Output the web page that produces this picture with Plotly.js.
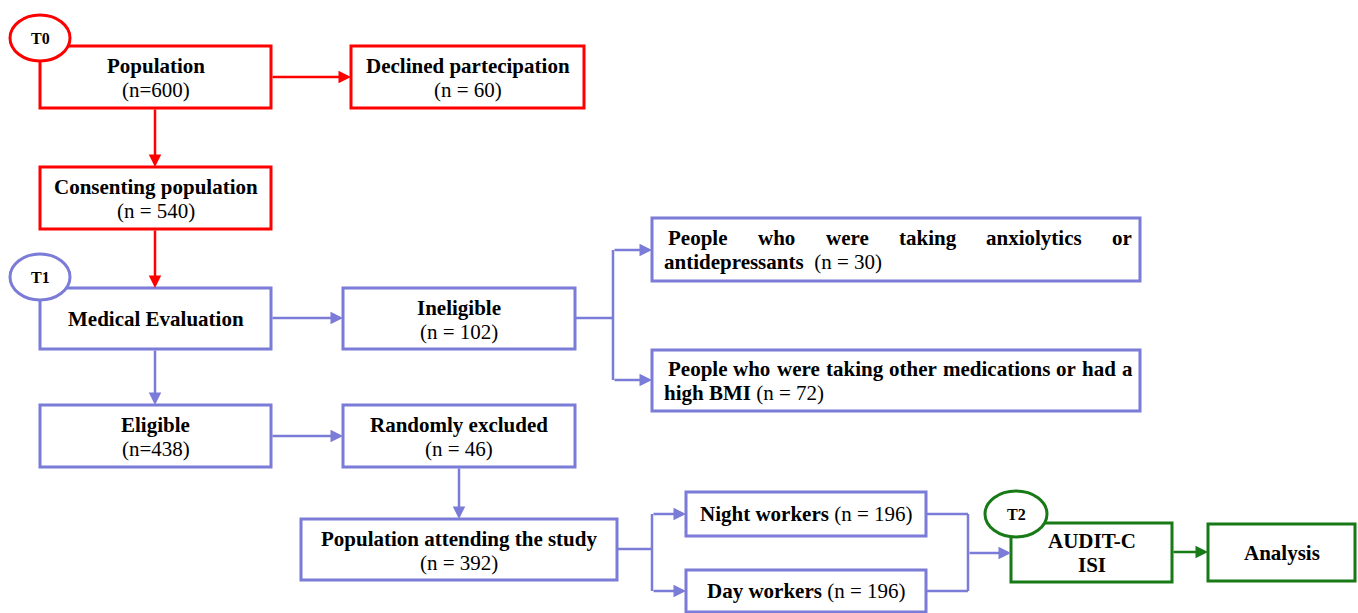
<!DOCTYPE html>
<html>
<head>
<meta charset="utf-8">
<script src="https://cdn.plot.ly/plotly-3.0.1.min.js"></script>
<style>html,body{margin:0;padding:0;background:#fff;}#chart{width:1358px;height:613px;}</style>
</head>
<body>
<div id="chart"></div>
<script>
// ---- data ----
const stageLabels = ["T0", "T1", "T2"];
const boxTitles = ["Population", "Declined partecipation", "Consenting population", "Medical Evaluation",
  "Ineligible", "Eligible", "Randomly excluded", "Population attending the study",
  "Night workers", "Day workers", "Analysis"];
const boxCounts = [600, 60, 540, null, 102, 438, 46, 392, 196, 196, null];
const compactCount = [true, false, false, false, false, true, false, false, false, false, false];
const exclusionTexts = ["People who were taking anxiolytics or", "antidepressants",
  "People who were taking other medications or had a", "high BMI"];
const exclusionCounts = [30, 72];
const measureLines = ["AUDIT-C", "ISI"];

// ---- styles / layout ----
const RED = '#ff0000', BLUE = '#7b7bd8', GREEN = '#177a17';
const FONT = 'Liberation Serif';
const FS = 21;

// box geometry (px) in same order as boxTitles
const boxGeom = [
  [40, 271, 46, 108, RED, 'two'],
  [351, 584, 46, 108, RED, 'two'],
  [40, 271, 167, 229, RED, 'two'],
  [40, 271, 288, 349, BLUE, 'one'],
  [343, 575, 288, 349, BLUE, 'two'],
  [40, 271, 405, 467, BLUE, 'two'],
  [343, 575, 405, 467, BLUE, 'two'],
  [301, 617, 519, 580, BLUE, 'two'],
  [686, 926, 492, 536, BLUE, 'inline'],
  [686, 926, 570, 612, BLUE, 'inline'],
  [1208, 1355, 524, 581, GREEN, 'one']
];
const exclGeom = [[652, 1140, 218, 281], [652, 1140, 350, 411]];
const measureGeom = [1011, 1172, 523, 582];
const stageGeom = [[40, 38, 30, 23, RED], [40, 277, 30, 23, BLUE], [1016, 514, 31, 23, GREEN]];

const shapes = [];
const annotations = [];

function rect(x0, x1, y0, y1, c) {
  shapes.push({type: 'rect', xref: 'x', yref: 'y', x0, x1, y0, y1,
    line: {color: c, width: 3}, fillcolor: 'white', layer: 'above'});
}
function seg(x0, y0, x1, y1, c) {
  shapes.push({type: 'line', xref: 'x', yref: 'y', x0, y0, x1, y1, line: {color: c, width: 2.5}, layer: 'above'});
}
function arrow(x0, y0, x1, y1, c) {
  annotations.push({x: x1, y: y1, ax: x0, ay: y0, xref: 'x', yref: 'y', axref: 'x', ayref: 'y',
    showarrow: true, arrowhead: 2, arrowsize: 1, arrowwidth: 2.5, arrowcolor: c, text: '', standoff: 0});
}
function txt(x, y, t, anchor, size) {
  annotations.push({x, y, xref: 'x', yref: 'y', text: t, showarrow: false,
    xanchor: anchor || 'center', yanchor: 'middle',
    font: {family: FONT, size: size || FS, color: '#000'}});
}
function countStr(n, compact) {
  return compact ? '(n=' + n + ')' : '(n = ' + n + ')';
}

// boxes
boxTitles.forEach((t, i) => {
  const [x0, x1, y0, y1, c, mode] = boxGeom[i];
  rect(x0, x1, y0, y1, c);
  const cx = (x0 + x1) / 2, cy = (y0 + y1) / 2;
  if (mode === 'two') {
    txt(cx, cy - 11, '<b>' + t + '</b>');
    txt(cx, cy + 13, countStr(boxCounts[i], compactCount[i]));
  } else if (mode === 'inline') {
    txt(cx, cy, '<b>' + t + '</b> ' + countStr(boxCounts[i], false));
  } else {
    txt(cx, cy, '<b>' + t + '</b>');
  }
});

// justified line helper
const cv = document.createElement('canvas').getContext('2d');
function justify(line, xl, xr, y) {
  cv.font = 'bold ' + FS + 'px "' + FONT + '"';
  const words = line.split(' ');
  const ws = words.map(w => cv.measureText(w).width);
  const total = ws.reduce((a, b) => a + b, 0);
  const gap = (xr - xl - total) / (words.length - 1);
  let x = xl;
  words.forEach((w, k) => {
    txt(x, y, '<b>' + w + '</b>', 'left');
    x += ws[k] + gap;
  });
}

// exclusion boxes
exclGeom.forEach((g, i) => {
  const [x0, x1, y0, y1] = g;
  rect(x0, x1, y0, y1, BLUE);
  const cy = (y0 + y1) / 2;
  justify(exclusionTexts[2 * i], x0 + 14, x1 - 10, cy - 12);
  const sep = i === 0 ? '  ' : ' ';
  txt(x0 + 10, cy + 12, '<b>' + exclusionTexts[2 * i + 1] + '</b>' + sep + countStr(exclusionCounts[i], false), 'left');
});

// measures box
rect(measureGeom[0], measureGeom[1], measureGeom[2], measureGeom[3], GREEN);
txt((measureGeom[0] + measureGeom[1]) / 2, 541, '<b>' + measureLines[0] + '</b>');
txt((measureGeom[0] + measureGeom[1]) / 2, 565, '<b>' + measureLines[1] + '</b>');

// connectors
arrow(155, 108, 155, 167, RED);
arrow(271, 77, 351, 77, RED);
arrow(155, 229, 155, 288, RED);
arrow(271, 318, 343, 318, BLUE);
arrow(155, 349, 155, 405, BLUE);
seg(575, 318, 613, 318, BLUE);
seg(613, 250, 613, 380, BLUE);
arrow(613, 250, 652, 250, BLUE);
arrow(613, 380, 652, 380, BLUE);
arrow(271, 436, 343, 436, BLUE);
arrow(459, 467, 459, 519, BLUE);
seg(617, 549, 652, 549, BLUE);
seg(652, 514, 652, 591, BLUE);
arrow(652, 514, 686, 514, BLUE);
arrow(652, 591, 686, 591, BLUE);
seg(926, 514, 968, 514, BLUE);
seg(926, 591, 968, 591, BLUE);
seg(968, 514, 968, 591, BLUE);
arrow(968, 553, 1011, 553, BLUE);
arrow(1172, 552, 1208, 552, GREEN);

// stage circles
stageLabels.forEach((s, i) => {
  const [cx, cy, rx, ry, c] = stageGeom[i];
  shapes.push({type: 'circle', xref: 'x', yref: 'y', x0: cx - rx, x1: cx + rx, y0: cy - ry, y1: cy + ry,
    line: {color: c, width: 3}, fillcolor: 'white', layer: 'above'});
  txt(cx, cy, '<b>' + s + '</b>', 'center', 16);
});

const layout = {
  width: 1358, height: 613,
  margin: {l: 0, r: 0, t: 0, b: 0},
  paper_bgcolor: 'white', plot_bgcolor: 'white',
  xaxis: {range: [0, 1358], visible: false, fixedrange: true},
  yaxis: {range: [613, 0], visible: false, fixedrange: true},
  showlegend: false,
  shapes, annotations
};
Plotly.newPlot('chart', [{x: [], y: [], type: 'scatter'}], layout, {displayModeBar: false, staticPlot: true});
</script>
</body>
</html>
